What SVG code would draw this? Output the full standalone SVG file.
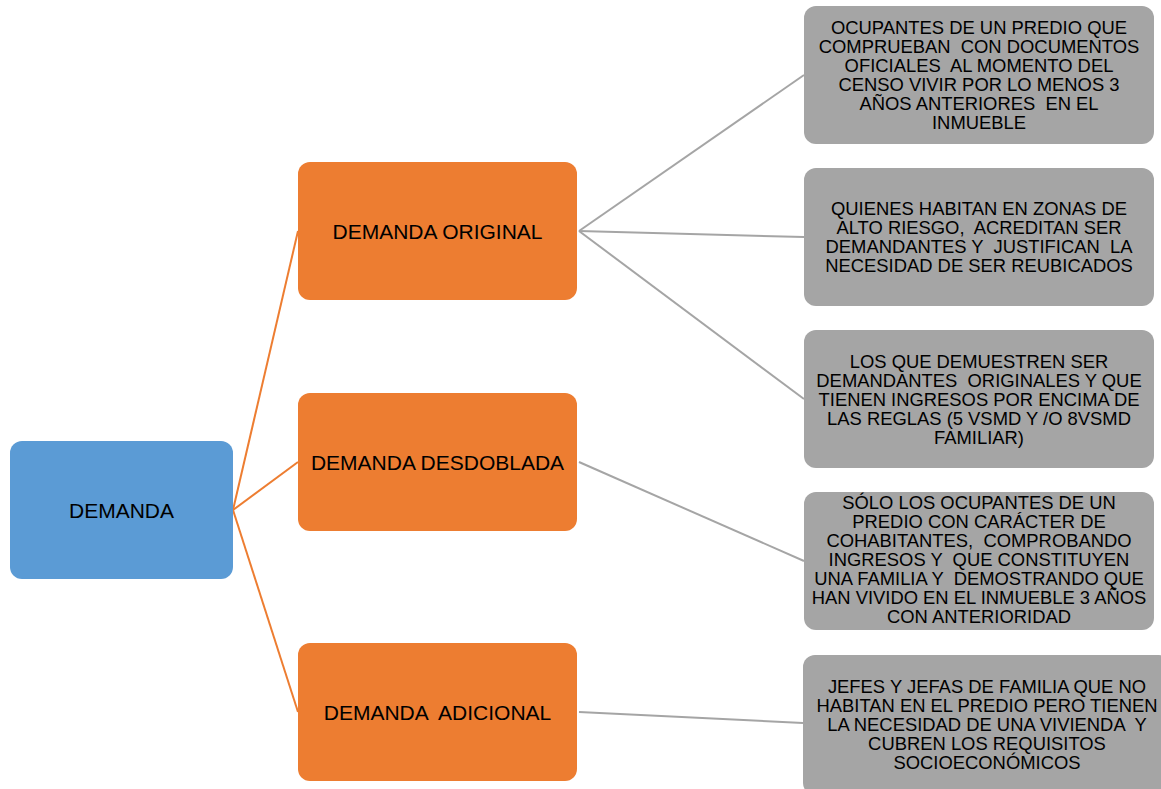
<svg xmlns="http://www.w3.org/2000/svg" width="1161" height="789" viewBox="0 0 1161 789">
<style>
  .root{fill:#5B9BD5;}
  .mid{fill:#ED7D31;}
  .leaf{fill:#A5A5A5;}
  .t1{font-family:"Liberation Sans",Arial,sans-serif;font-size:21px;fill:#000;text-anchor:middle;white-space:pre;}
  .t2{font-family:"Liberation Sans",Arial,sans-serif;font-size:18.4px;fill:#000;text-anchor:middle;white-space:pre;}
  .co{stroke:#ED7D31;stroke-width:2;fill:none;}
  .cg{stroke:#A5A5A5;stroke-width:2;fill:none;}
</style>
<rect width="1161" height="789" fill="#fff"/>
<g id="connectors">
  <line class="co" x1="233" y1="510" x2="298" y2="231"/>
  <line class="co" x1="233" y1="510" x2="298" y2="462"/>
  <line class="co" x1="233" y1="510" x2="298" y2="712"/>
  <line class="cg" x1="579" y1="231" x2="804" y2="75"/>
  <line class="cg" x1="579" y1="231" x2="804" y2="237"/>
  <line class="cg" x1="579" y1="231" x2="804" y2="399"/>
  <line class="cg" x1="579" y1="462" x2="804" y2="561"/>
  <line class="cg" x1="579" y1="712" x2="803" y2="723"/>
</g>
<g id="n-demanda">
  <rect class="root" x="10" y="441" width="223" height="138" rx="12"/>
  <text class="t1" x="121.5" y="517.5">DEMANDA</text>
</g>
<g id="n-original">
  <rect class="mid" x="298" y="162" width="279" height="138" rx="12"/>
  <text class="t1" x="437.5" y="238.5">DEMANDA ORIGINAL</text>
</g>
<g id="n-desdoblada">
  <rect class="mid" x="298" y="393" width="279" height="138" rx="12"/>
  <text class="t1" x="437.5" y="469.5">DEMANDA DESDOBLADA</text>
</g>
<g id="n-adicional">
  <rect class="mid" x="298" y="643" width="279" height="138" rx="12"/>
  <text class="t1" x="437.5" y="719.5">DEMANDA  ADICIONAL</text>
</g>
<g id="n-leaf1">
  <rect class="leaf" x="804" y="6" width="350" height="138" rx="12"/>
  <text class="t2" x="979" y="34">OCUPANTES DE UN PREDIO QUE</text>
  <text class="t2" x="979" y="53">COMPRUEBAN  CON DOCUMENTOS</text>
  <text class="t2" x="979" y="72">OFICIALES  AL MOMENTO DEL</text>
  <text class="t2" x="979" y="91">CENSO VIVIR POR LO MENOS 3</text>
  <text class="t2" x="979" y="110">AÑOS ANTERIORES  EN EL</text>
  <text class="t2" x="979" y="129">INMUEBLE</text>
</g>
<g id="n-leaf2">
  <rect class="leaf" x="804" y="168" width="350" height="138" rx="12"/>
  <text class="t2" x="979" y="215">QUIENES HABITAN EN ZONAS DE</text>
  <text class="t2" x="979" y="234">ALTO RIESGO,  ACREDITAN SER</text>
  <text class="t2" x="979" y="253">DEMANDANTES Y  JUSTIFICAN  LA</text>
  <text class="t2" x="979" y="272">NECESIDAD DE SER REUBICADOS</text>
</g>
<g id="n-leaf3">
  <rect class="leaf" x="804" y="330" width="350" height="138" rx="12"/>
  <text class="t2" x="979" y="367.5">LOS QUE DEMUESTREN SER</text>
  <text class="t2" x="979" y="386.5">DEMANDANTES  ORIGINALES Y QUE</text>
  <text class="t2" x="979" y="405.5">TIENEN INGRESOS POR ENCIMA DE</text>
  <text class="t2" x="979" y="424.5">LAS REGLAS (5 VSMD Y /O 8VSMD</text>
  <text class="t2" x="979" y="443.5">FAMILIAR)</text>
</g>
<g id="n-leaf4">
  <rect class="leaf" x="804" y="492" width="350" height="138" rx="12"/>
  <text class="t2" x="979" y="508.5">SÓLO LOS OCUPANTES DE UN</text>
  <text class="t2" x="979" y="527.5">PREDIO CON CARÁCTER DE</text>
  <text class="t2" x="979" y="546.5">COHABITANTES,  COMPROBANDO</text>
  <text class="t2" x="979" y="565.5">INGRESOS Y  QUE CONSTITUYEN</text>
  <text class="t2" x="979" y="584.5">UNA FAMILIA Y  DEMOSTRANDO QUE</text>
  <text class="t2" x="979" y="603.5">HAN VIVIDO EN EL INMUEBLE 3 AÑOS</text>
  <text class="t2" x="979" y="622.5">CON ANTERIORIDAD</text>
</g>
<g id="n-leaf5">
  <rect class="leaf" x="803" y="655" width="368" height="140" rx="12"/>
  <text class="t2" x="987" y="692.5">JEFES Y JEFAS DE FAMILIA QUE NO</text>
  <text class="t2" x="987" y="711.5">HABITAN EN EL PREDIO PERO TIENEN</text>
  <text class="t2" x="987" y="730.5">LA NECESIDAD DE UNA VIVIENDA  Y</text>
  <text class="t2" x="987" y="749.5">CUBREN LOS REQUISITOS</text>
  <text class="t2" x="987" y="768.5">SOCIOECONÓMICOS</text>
</g>
</svg>
